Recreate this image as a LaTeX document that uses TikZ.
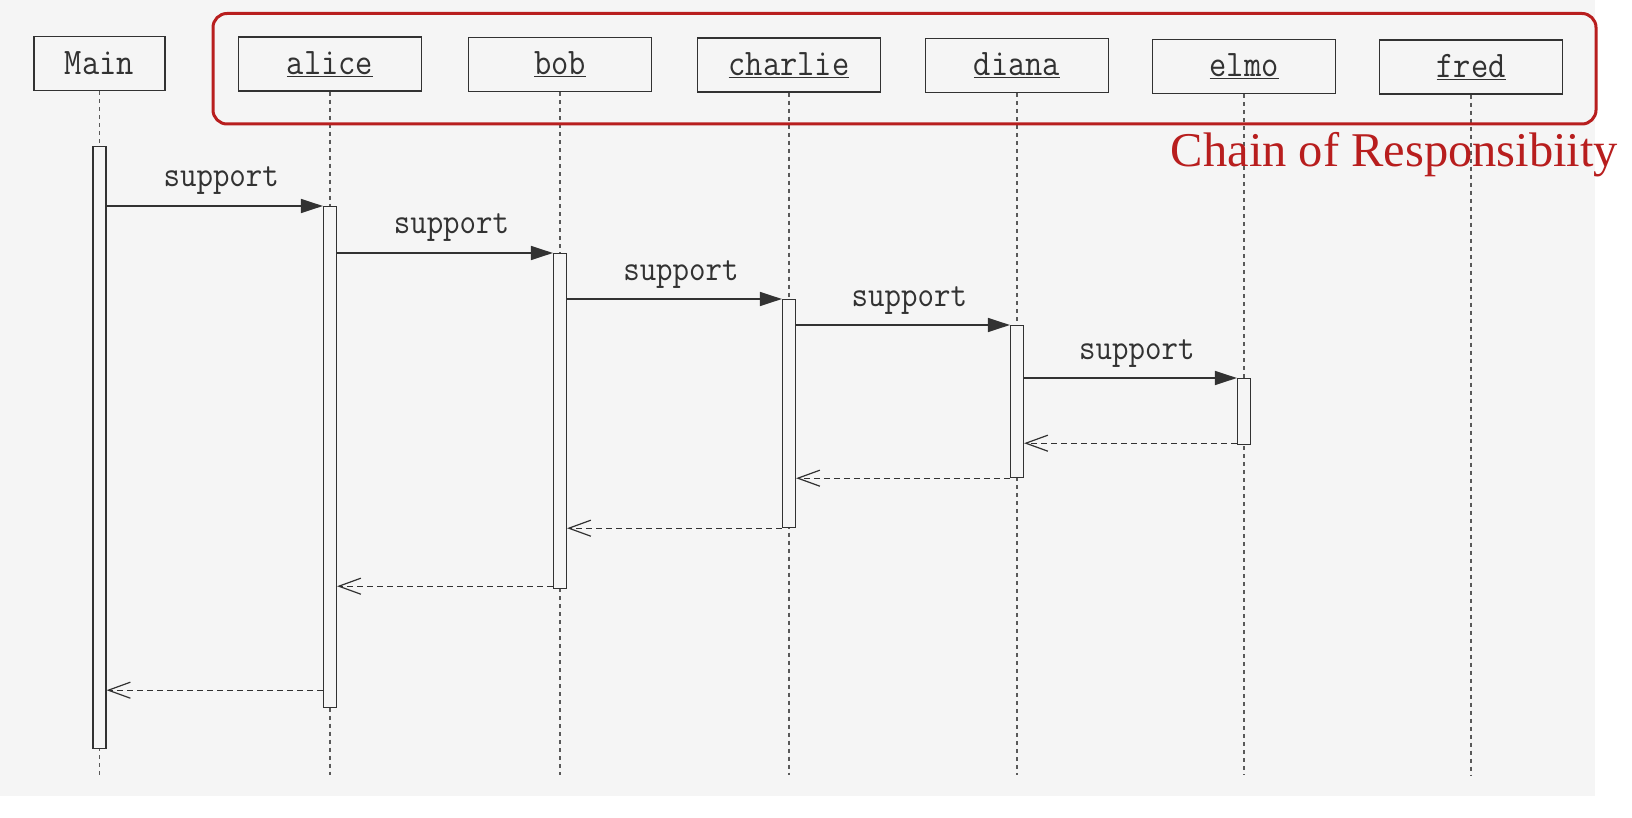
\documentclass[tikz,border=0pt]{standalone}
\usepackage{fontspec}
\usepackage{graphicx}
\usetikzlibrary{arrows.meta}
\newfontfamily\chainfont{Liberation Serif}
\definecolor{bgscan}{RGB}{245,245,245}
\definecolor{ink}{RGB}{50,50,50}
\definecolor{lifeink}{RGB}{90,90,90}
\definecolor{chainred}{RGB}{184,30,30}
\newcommand{\vtxt}[1]{\scalebox{1}[1.12]{#1}}
\begin{document}
\begin{tikzpicture}[x=1pt,y=-1pt,
  headbox/.style={draw=ink, line width=1.2pt, fill=bgscan, minimum width=183pt, minimum height=54pt, inner sep=0pt, font=\fontsize{33.5}{36}\selectfont\ttfamily, text=ink},
  lifeline/.style={draw=lifeink, line width=1.2pt, dash pattern=on 4pt off 4pt},
  actbox/.style={draw=ink, line width=1.2pt, fill=bgscan, minimum width=13pt, inner sep=0pt, anchor=north},
  call/.style={draw=ink, line width=1.5pt, -{Triangle[length=22pt,width=14pt]}},
  ret/.style={draw=ink, line width=1.2pt, dash pattern=on 6pt off 4pt, -{Straight Barb[length=22pt,width=16pt,line width=1.2pt]}},
  lbl/.style={font=\fontsize{32}{36}\selectfont\ttfamily, text=ink, anchor=base, inner sep=0pt, pos=0.53, yshift=19pt}
]
\useasboundingbox (0,0) rectangle (1632,818);
\fill[white] (0,0) rectangle (1632,818);
\fill[bgscan] (0,0) rectangle (1595,796);

% header boxes
\node[headbox, minimum width=131pt] (main) at (99.5,63.5) {\vtxt{Main}};
\node[headbox] (alice)   at (330,64)    {\vtxt{\underline{alice}}};
\node[headbox] (bob)     at (560,64.5)  {\vtxt{\underline{bob}}};
\node[headbox] (charlie) at (789,65)    {\vtxt{\underline{charlie}}};
\node[headbox] (diana)   at (1017,65.5) {\vtxt{\underline{diana}}};
\node[headbox] (elmo)    at (1244,66.5) {\vtxt{\underline{elmo}}};
\node[headbox] (fred)    at (1471,67)   {\vtxt{\underline{fred}}};

% lifelines
\coordinate (bottomline) at (0,775);
\foreach \n in {main,alice,bob,charlie,diana,elmo,fred}
  \draw[lifeline] (\n.south) -- (\n.south |- bottomline);

% activations
\node[actbox, minimum height=602pt] (amain)    at (99.5,146) {};
\node[actbox, minimum height=501pt] (aalice)   at (330,206)  {};
\node[actbox, minimum height=335pt] (abob)     at (560,253)  {};
\node[actbox, minimum height=228pt] (acharlie) at (789,299)  {};
\node[actbox, minimum height=152pt] (adiana)   at (1017,325) {};
\node[actbox, minimum height=66pt]  (aelmo)    at (1244,378) {};

% calls
\draw[call] (amain.east |- aalice.north) -- node[lbl]{\vtxt{support}} (aalice.north west);
\draw[call] (aalice.east |- abob.north) -- node[lbl]{\vtxt{support}} (abob.north west);
\draw[call] (abob.east |- acharlie.north) -- node[lbl]{\vtxt{support}} (acharlie.north west);
\draw[call] (acharlie.east |- adiana.north) -- node[lbl]{\vtxt{support}} (adiana.north west);
\draw[call] (adiana.east |- aelmo.north) -- node[lbl]{\vtxt{support}} (aelmo.north west);

% returns
\coordinate (re) at ([yshift=2pt]aelmo.south west);
\draw[ret] (re) -- (adiana.east |- re);
\draw[ret] (adiana.south west) -- (acharlie.east |- adiana.south);
\draw[ret] (acharlie.south west) -- (abob.east |- acharlie.south);
\coordinate (rb) at ([yshift=3pt]abob.south west);
\draw[ret] (rb) -- (aalice.east |- rb);
\coordinate (ra) at ([yshift=18pt]aalice.south west);
\draw[ret] (ra) -- (amain.east |- ra);

% chain frame
\draw[chainred, line width=3pt, rounded corners=14pt] (213,13.5) rectangle (1596,124);
\node[font=\chainfont\fontsize{48.5}{52}\selectfont, text=chainred, anchor=base, inner sep=0pt] (chain) at (1394.5,166.5) {Chain of Responsibiity};
\end{tikzpicture}
\end{document}
